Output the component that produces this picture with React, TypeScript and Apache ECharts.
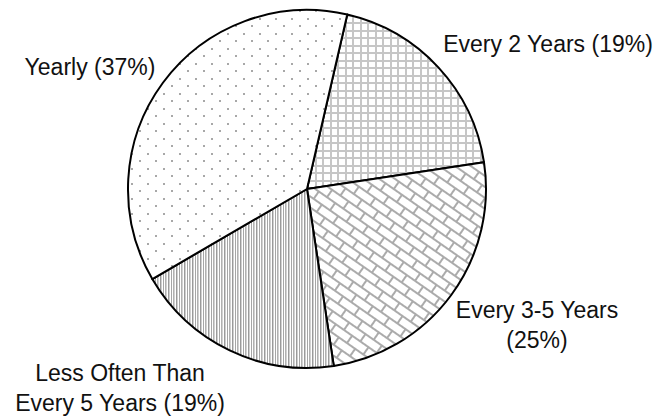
import React, { useEffect, useRef } from 'react';
import * as echarts from 'echarts';

// ---- data ----
const categories: string[] = ['Every 2 Years', 'Every 3-5 Years', 'Less Often Than\nEvery 5 Years', 'Yearly'];
const percents: number[] = [19, 25, 19, 37];
const percentOnNewLine: boolean[] = [false, true, false, false];

// ---- layout (label anchor positions, px) ----
const labelPositions: [number, number][] = [
  [548, 44],
  [537, 325],
  [120, 388],
  [90, 67],
];

type Draw = (ctx: CanvasRenderingContext2D) => void;

function makeTile(w: number, h: number, draw: Draw, extra: any = {}) {
  const c = document.createElement('canvas');
  c.width = w;
  c.height = h;
  const ctx = c.getContext('2d') as CanvasRenderingContext2D;
  ctx.fillStyle = '#ffffff';
  ctx.fillRect(0, 0, w, h);
  draw(ctx);
  return { image: c.toDataURL(), repeat: 'repeat', imageWidth: w, imageHeight: h, ...extra };
}

function buildPatterns() {
  const grid = makeTile(15, 15, (ctx) => {
    ctx.fillStyle = '#c6c6c6';
    ctx.fillRect(0, 0, 15, 2);
    ctx.fillRect(0, 7, 15, 2);
    ctx.fillRect(0, 0, 2, 15);
    ctx.fillRect(7, 0, 2, 15);
  });
  const bricks = makeTile(
    20,
    18,
    (ctx) => {
      ctx.fillStyle = '#ababab';
      ctx.fillRect(0, 0, 20, 2);
      ctx.fillRect(0, 9, 20, 2);
      ctx.fillRect(0, 0, 2, 9);
      ctx.fillRect(10, 9, 2, 9);
    },
    { rotation: (35 * Math.PI) / 180 }
  );
  const stripes = makeTile(8, 4, (ctx) => {
    const cols = ['#9a9a9a', '#cfcfcf', '#ffffff', '#a6a6a6', '#ffffff', '#b0b0b0', '#d2d2d2', '#ffffff'];
    cols.forEach((c, i) => {
      ctx.fillStyle = c;
      ctx.fillRect(i, 0, 1, 4);
    });
  });
  const dots = makeTile(16, 15, (ctx) => {
    ctx.fillStyle = '#a8a8a8';
    ctx.fillRect(3, 3, 2, 2);
    ctx.fillRect(11, 10, 2, 2);
  });
  return [grid, bricks, stripes, dots];
}

export default function App() {
  const ref = useRef<HTMLDivElement>(null);

  useEffect(() => {
    if (!ref.current) return;
    const chart = echarts.init(ref.current, null, { renderer: 'svg' });
    const patterns = buildPatterns();

    const data = categories.map((name, i) => ({
      name,
      value: percents[i],
      itemStyle: { color: patterns[i] as any },
    }));

    const option: any = {
      animation: false,
      backgroundColor: '#ffffff',
      series: [
        {
          type: 'pie',
          center: [307, 189],
          radius: 179,
          startAngle: 77,
          clockwise: true,
          data,
          emphasis: { disabled: true },
          itemStyle: { borderColor: '#000000', borderWidth: 2 },
          label: {
            show: true,
            position: 'outside',
            fontFamily: 'Liberation Sans, Arial, sans-serif',
            fontSize: 23,
            lineHeight: 30,
            color: '#111111',
            align: 'center',
            width: 260,
            overflow: 'none',
            formatter: (p: any) =>
              p.name + (percentOnNewLine[p.dataIndex] ? '\n' : ' ') + '(' + p.value + '%)',
          },
          labelLine: { show: false },
          labelLayout: (params: any) => {
            const pos = labelPositions[params.dataIndex];
            return { x: pos[0], y: pos[1], align: 'center', verticalAlign: 'middle', hideOverlap: false };
          },
        },
      ],
    };
    chart.setOption(option);
    return () => chart.dispose();
  }, []);

  return (
    <div
      ref={ref}
      style={{ position: 'fixed', left: 0, top: 0, width: 657, height: 416, background: '#fff' }}
    />
  );
}
